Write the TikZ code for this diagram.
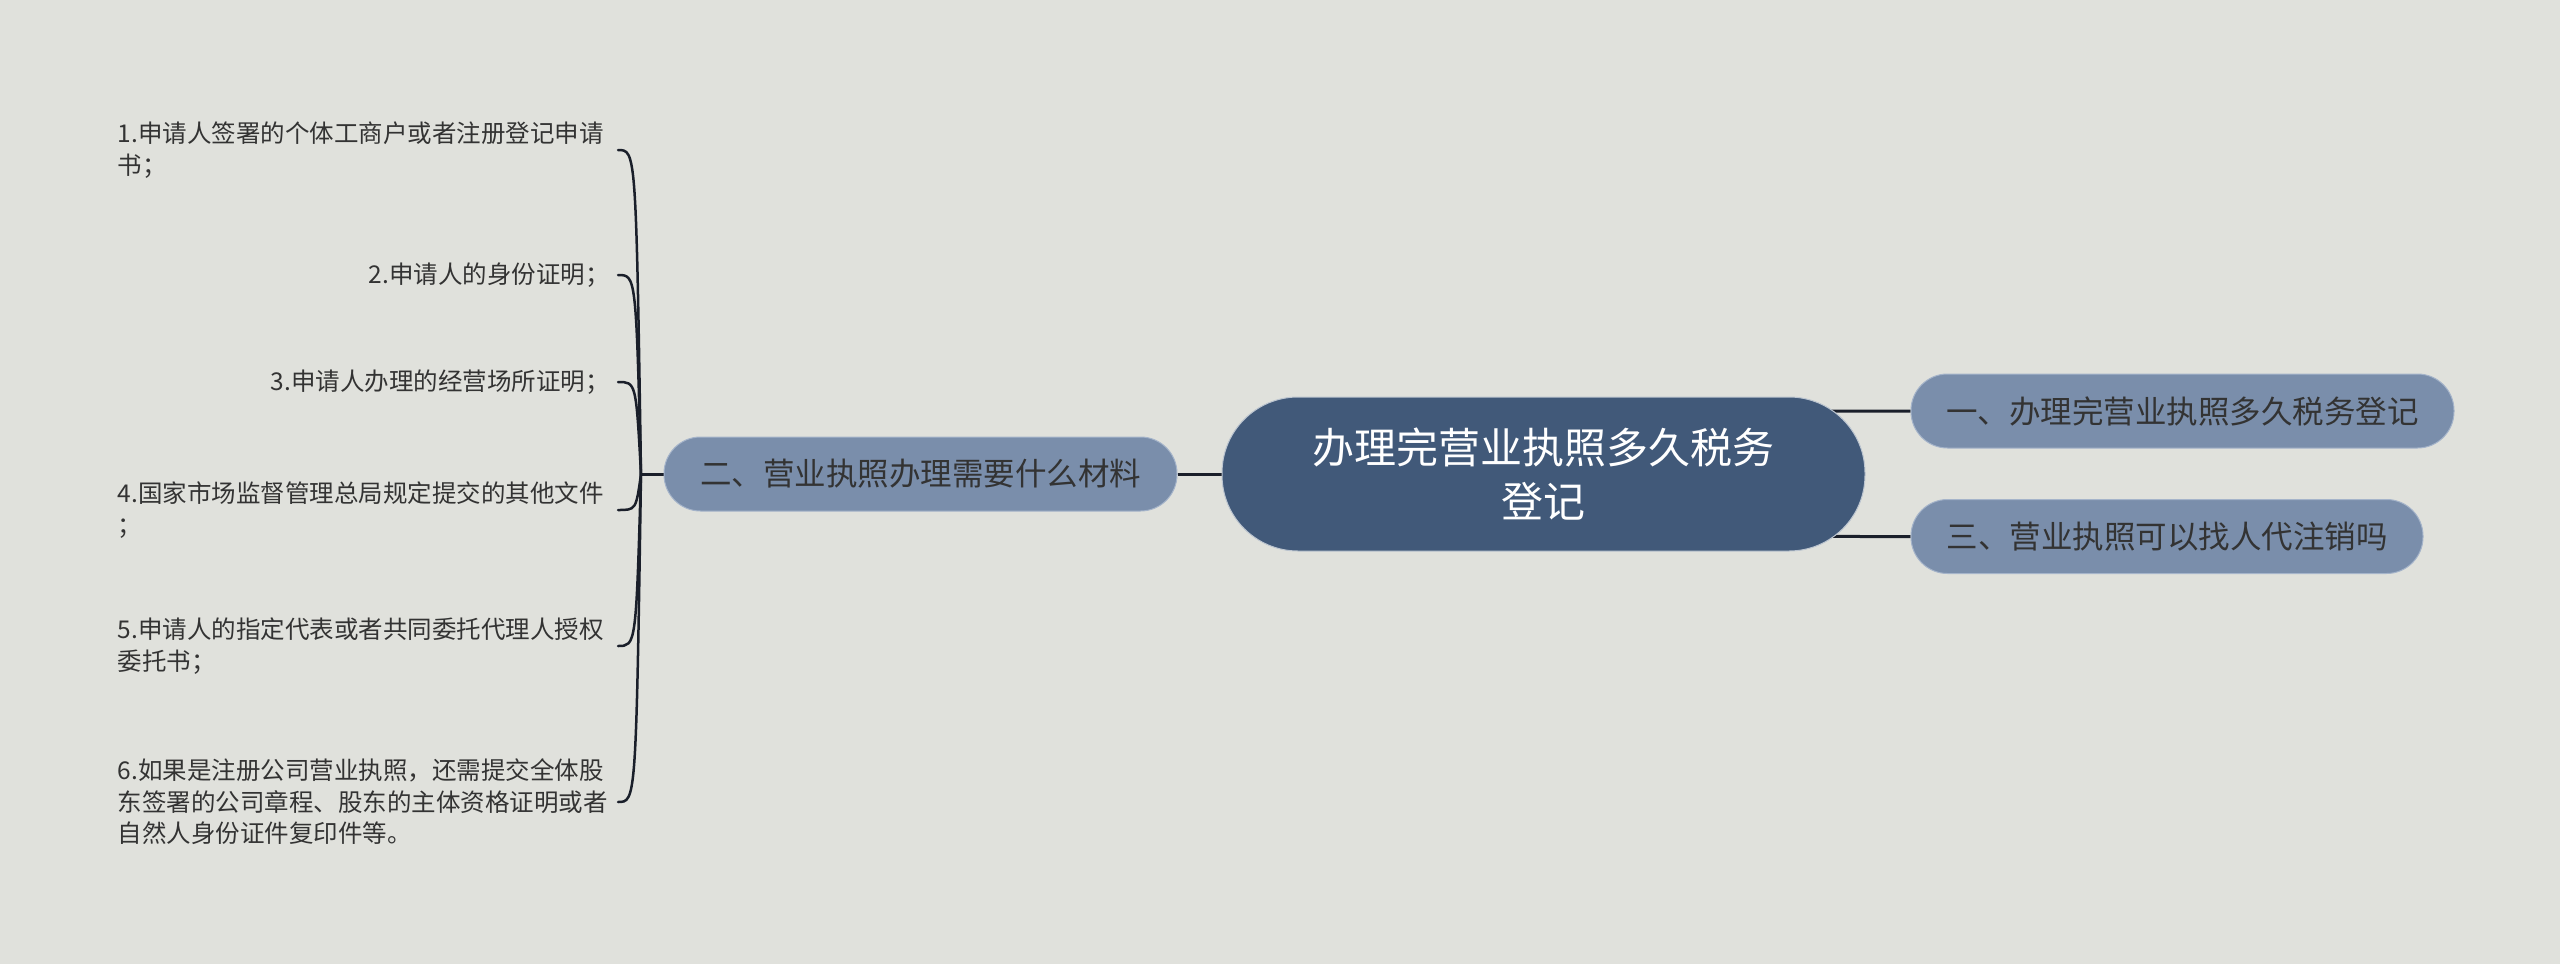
\documentclass[tikz,border=0pt]{standalone}
\usepackage{fontspec}
\newfontfamily\cjk{Noto Sans CJK SC}
\definecolor{bg}{RGB}{224,225,220}
\definecolor{mainfill}{RGB}{65,89,121}
\definecolor{subfill}{RGB}{122,142,171}
\definecolor{subline}{RGB}{165,180,202}
\definecolor{txt}{RGB}{51,51,51}
\definecolor{edge}{RGB}{26,31,42}
\pgfdeclarelayer{background}
\pgfsetlayers{background,main}
\begin{document}
\begin{tikzpicture}[x=1pt,y=-1pt,
  rootbox/.style={fill=mainfill, draw=white!65!mainfill, line width=1pt, rounded corners=76pt,
    minimum width=643pt, minimum height=154pt, inner sep=0pt, text=white,
    font=\cjk\fontsize{42}{54}\selectfont, align=center},
  subbox/.style={fill=subfill, draw=subline, line width=1pt, rounded corners=36.5pt,
    minimum height=74pt, inner sep=0pt, text=txt, font=\cjk\fontsize{31.5}{38}\selectfont},
  leaf/.style={inner sep=0pt, text=txt, font=\cjk\fontsize{24.5}{31.5}\selectfont,
    text width=487pt, anchor=east},
  link/.style={draw=edge, line width=3pt},
  bracelink/.style={draw=edge, line width=2.5pt, line cap=round}
]
\useasboundingbox (0,0) rectangle (2560,964);

% main nodes
\node[rootbox] (C) at (1543.5,474) {办理完营业执照多久税务\\登记};
\node[subbox, minimum width=513pt] (L) at (920.5,474) {二、营业执照办理需要什么材料};
\node[subbox, minimum width=543pt] (R1) at (2182.5,411) {一、办理完营业执照多久税务登记};
\node[subbox, minimum width=512pt] (R2) at (2167,536.5) {三、营业执照可以找人代注销吗};

% leaves
\node[leaf, align=left]  (i1) at (605,150) {1.申请人签署的个体工商户或者注册登记申请\\书；};
\node[leaf, align=right] (i2) at (610,275) {2.申请人的身份证明；};
\node[leaf, align=right] (i3) at (610,382) {3.申请人办理的经营场所证明；};
\node[leaf, align=left]  (i4) at (605,510) {4.国家市场监督管理总局规定提交的其他文件\\；};
\node[leaf, align=left]  (i5) at (605,646) {5.申请人的指定代表或者共同委托代理人授权\\委托书；};
\node[leaf, align=left]  (i6) at (605,802) {6.如果是注册公司营业执照，还需提交全体股\\东签署的公司章程、股东的主体资格证明或者\\自然人身份证件复印件等。};

\coordinate (root) at (641,474);

\begin{pgfonlayer}{background}
  \fill[bg] (0,0) rectangle (2560,964);
  \draw[link] (L.east) -- (C.west);
  \draw[link] (C.center) .. controls (C.center |- R1.west) .. (R1.west);
  \draw[link] (C.center) .. controls (C.center |- R2.west) .. (R2.west);
  \draw[link] (L.west) -- (root);
  \foreach \i/\y in {1/150,2/275,3/382,4/510,5/646,6/802}{
    \coordinate (e\i) at (618,\y);
    \draw[bracelink] (root) .. controls ([xshift=-5pt]root |- e\i) .. (e\i);
  }
\end{pgfonlayer}
\end{tikzpicture}
\end{document}
